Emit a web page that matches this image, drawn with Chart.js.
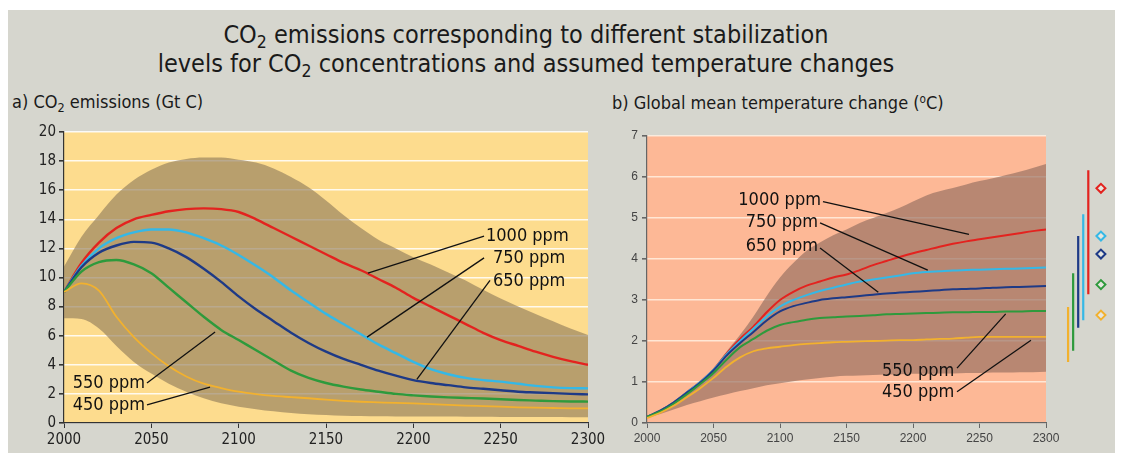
<!DOCTYPE html>
<html>
<head>
<meta charset="utf-8">
<script src="https://cdn.jsdelivr.net/npm/chart.js@4"></script>
<style>
  body { margin: 0; background: #fff; width: 1122px; height: 457px; position: relative; overflow: hidden;
         font-family: "DejaVu Sans Condensed", "DejaVu Sans", sans-serif; font-stretch: condensed; color: #1a1a1a; }
  #panel { position: absolute; left: 8px; top: 10px; width: 1107px; height: 443px; background: #d6d6ce; }
  #title { position: absolute; left: 0; top: 20px; width: 1052px; text-align: center; font-size: 25px; line-height: 29px; }
  .lab { position: absolute; font-size: 18px; white-space: nowrap; }
  sub { font-size: 70%; vertical-align: -0.3em; line-height: 0; }
  sup { font-size: 65%; vertical-align: 0.5em; line-height: 0; }
  canvas { position: absolute; }
</style>
</head>
<body>
<div id="panel"></div>
<div id="title">CO<sub>2</sub> emissions corresponding to different stabilization<br>levels for CO<sub>2</sub> concentrations and assumed temperature changes</div>
<div class="lab" style="left:12px; top:91px;">a) CO<sub>2</sub> emissions (Gt C)</div>
<div class="lab" style="left:612px; top:92px;">b) Global mean temperature change (<sup>o</sup>C)</div>
<canvas id="emissions-chart" width="610" height="357" style="left:0; top:100px;"></canvas>
<canvas id="temperature-chart" width="470" height="357" style="left:600px; top:100px;"></canvas>
<canvas id="range-chart" width="60" height="287" style="left:1054px; top:136px;"></canvas>
<script>
// years for both panels
const years = [2000, 2010, 2020, 2030, 2040, 2050, 2060, 2070, 2080, 2090, 2100,
  2110, 2120, 2130, 2140, 2150, 2160, 2170, 2180, 2190, 2200,
  2210, 2220, 2230, 2240, 2250, 2260, 2270, 2280, 2290, 2300];

// a) emissions, Gt C
const em1000 = [9.0, 11.0, 12.4, 13.4, 14.0, 14.3, 14.55, 14.7, 14.75, 14.7, 14.5,
  14.0, 13.4, 12.8, 12.2, 11.6, 11.0, 10.5, 9.9, 9.3, 8.6,
  8.0, 7.4, 6.8, 6.2, 5.7, 5.3, 4.9, 4.55, 4.25, 4.0];
const em750 = [9.0, 10.8, 12.0, 12.7, 13.1, 13.3, 13.3, 13.1, 12.7, 12.2, 11.55,
  10.8, 10.0, 9.1, 8.3, 7.5, 6.8, 6.1, 5.4, 4.8, 4.2,
  3.7, 3.35, 3.1, 2.95, 2.84, 2.7, 2.55, 2.45, 2.4, 2.38];
const em650 = [9.0, 10.7, 11.7, 12.2, 12.45, 12.4, 12.0, 11.4, 10.6, 9.7, 8.7,
  7.8, 7.0, 6.2, 5.5, 4.9, 4.4, 4.0, 3.6, 3.25, 2.95,
  2.75, 2.6, 2.45, 2.35, 2.25, 2.15, 2.1, 2.05, 2.0, 1.97];
const em550 = [9.0, 10.4, 11.05, 11.2, 10.9, 10.3, 9.3, 8.3, 7.3, 6.4, 5.7,
  5.0, 4.3, 3.6, 3.1, 2.75, 2.5, 2.3, 2.15, 2.0, 1.9,
  1.82, 1.76, 1.72, 1.68, 1.63, 1.58, 1.54, 1.5, 1.48, 1.47];
const em450 = [9.0, 9.6, 9.1, 7.3, 5.9, 4.8, 3.9, 3.2, 2.7, 2.4, 2.15,
  1.98, 1.86, 1.78, 1.7, 1.6, 1.52, 1.46, 1.42, 1.38, 1.35,
  1.3, 1.25, 1.2, 1.16, 1.12, 1.08, 1.05, 1.03, 1.01, 1.0];
const emHigh = [10.75, 12.8, 14.3, 15.7, 16.7, 17.4, 17.9, 18.15, 18.25, 18.25, 18.1,
  17.9, 17.5, 16.9, 16.2, 15.3, 14.3, 13.4, 12.6, 12.0, 11.4,
  10.9, 10.35, 9.8, 9.15, 8.55, 8.0, 7.5, 7.0, 6.5, 6.05];
const emLow = [7.2, 7.15, 6.5, 5.3, 4.2, 3.4, 2.7, 2.15, 1.7, 1.35, 1.12,
  0.95, 0.8, 0.68, 0.6, 0.55, 0.5, 0.48, 0.46, 0.45, 0.45,
  0.44, 0.44, 0.43, 0.43, 0.42, 0.42, 0.41, 0.41, 0.4, 0.4];

// b) temperature change, degC
const t1000 = [0.15, 0.3, 0.5, 0.75, 1.0, 1.3, 1.7, 2.05, 2.35, 2.7, 3.0,
  3.2, 3.35, 3.45, 3.55, 3.62, 3.73, 3.85, 3.95, 4.05, 4.14,
  4.22, 4.3, 4.37, 4.43, 4.48, 4.53, 4.58, 4.63, 4.68, 4.72];
const t750 = [0.15, 0.3, 0.5, 0.75, 1.0, 1.3, 1.68, 2.0, 2.3, 2.6, 2.84,
  3.0, 3.12, 3.22, 3.3, 3.38, 3.45, 3.5, 3.55, 3.6, 3.65,
  3.68, 3.7, 3.72, 3.73, 3.74, 3.75, 3.76, 3.77, 3.78, 3.79];
const t650 = [0.15, 0.3, 0.5, 0.74, 0.98, 1.28, 1.65, 1.95, 2.22, 2.5, 2.72,
  2.85, 2.93, 3.0, 3.04, 3.07, 3.1, 3.13, 3.16, 3.18, 3.2,
  3.22, 3.24, 3.26, 3.27, 3.28, 3.3, 3.31, 3.32, 3.33, 3.34];
const t550 = [0.15, 0.28, 0.47, 0.7, 0.95, 1.22, 1.55, 1.85, 2.05, 2.25, 2.39,
  2.46, 2.52, 2.56, 2.58, 2.6, 2.61, 2.63, 2.65, 2.66, 2.67,
  2.68, 2.69, 2.7, 2.7, 2.71, 2.71, 2.72, 2.72, 2.73, 2.73];
const t450 = [0.12, 0.25, 0.42, 0.63, 0.85, 1.1, 1.38, 1.6, 1.75, 1.82, 1.86,
  1.9, 1.93, 1.95, 1.97, 1.98, 1.99, 2.0, 2.01, 2.02, 2.02,
  2.04, 2.05, 2.06, 2.08, 2.1, 2.1, 2.1, 2.1, 2.1, 2.1];
const tHigh = [0.15, 0.32, 0.52, 0.77, 1.02, 1.33, 1.75, 2.15, 2.6, 3.1, 3.55,
  3.9, 4.2, 4.4, 4.58, 4.72, 4.88, 5.0, 5.12, 5.25, 5.4,
  5.55, 5.65, 5.73, 5.82, 5.9, 5.97, 6.05, 6.13, 6.22, 6.32];
const tLow = [0.12, 0.22, 0.33, 0.44, 0.53, 0.62, 0.7, 0.78, 0.85, 0.92, 0.97,
  1.02, 1.06, 1.1, 1.13, 1.15, 1.16, 1.17, 1.18, 1.19, 1.2,
  1.2, 1.21, 1.21, 1.22, 1.22, 1.23, 1.23, 1.24, 1.24, 1.25];

// equilibrium ranges at the right (450, 550, 650, 750, 1000 ppm)
const rangeLow = [1.39, 1.68, 2.27, 2.46, 3.12];
const rangeHigh = [2.8, 3.66, 4.61, 5.17, 6.29];
const rangeBest = [2.59, 3.37, 4.15, 4.61, 5.83];

const levels = ["450 ppm", "550 ppm", "650 ppm", "750 ppm", "1000 ppm"];
const colors = ["#f2b12e", "#2e9a3c", "#1e3a86", "#35b8e6", "#e3231f"];

// leader labels, in data units: text spot, line start, line end
const emNotes = [
  { text: "1000 ppm", tx: 2241.6, ty: 12.85, align: "left", x1: 2240.5, y1: 12.85, x2: 2174, y2: 10.3 },
  { text: "750 ppm", tx: 2245.6, ty: 11.35, align: "left", x1: 2240.5, y1: 11.35, x2: 2173.5, y2: 5.9 },
  { text: "650 ppm", tx: 2245.6, ty: 9.75, align: "left", x1: 2243.9, y1: 9.8, x2: 2202, y2: 3.0 },
  { text: "550 ppm", tx: 2046.4, ty: 2.75, align: "right", x1: 2047.5, y1: 2.75, x2: 2086.5, y2: 6.25 },
  { text: "450 ppm", tx: 2046.4, ty: 1.24, align: "right", x1: 2047.5, y1: 1.24, x2: 2083.6, y2: 2.47 },
];
const tNotes = [
  { text: "1000 ppm", tx: 2130.8, ty: 5.44, align: "right", x1: 2132.3, y1: 5.4, x2: 2242.1, y2: 4.6 },
  { text: "750 ppm", tx: 2128.6, ty: 4.9, align: "right", x1: 2130.1, y1: 4.88, x2: 2211.1, y2: 3.73 },
  { text: "650 ppm", tx: 2128.6, ty: 4.32, align: "right", x1: 2130.1, y1: 4.27, x2: 2173.9, y2: 3.19 },
  { text: "550 ppm", tx: 2176.7, ty: 1.27, align: "left", x1: 2233.1, y1: 1.34, x2: 2269.7, y2: 2.66 },
  { text: "450 ppm", tx: 2176.7, ty: 0.74, align: "left", x1: 2233.1, y1: 0.76, x2: 2288.7, y2: 2.02 },
];

const FONT = "'DejaVu Sans Condensed', 'DejaVu Sans', sans-serif";

function pts(ys) {
  return ys.map((y, i) => ({ x: years[i], y: y }));
}

const plotBg = {
  id: "plotBg",
  beforeDraw(chart, args, opts) {
    const a = chart.chartArea;
    const ctx = chart.ctx;
    ctx.save();
    ctx.fillStyle = opts.color;
    ctx.fillRect(a.left, a.top, a.width, a.height);
    ctx.restore();
  },
};

const notes = {
  id: "notes",
  afterDatasetsDraw(chart, args, opts) {
    const ctx = chart.ctx;
    const sx = chart.scales.x, sy = chart.scales.y;
    ctx.save();
    ctx.strokeStyle = "#111";
    ctx.lineWidth = 1.3;
    ctx.fillStyle = "#111";
    ctx.font = "18px " + FONT;
    ctx.textBaseline = "middle";
    opts.items.forEach((n) => {
      ctx.beginPath();
      ctx.moveTo(sx.getPixelForValue(n.x1), sy.getPixelForValue(n.y1));
      ctx.lineTo(sx.getPixelForValue(n.x2), sy.getPixelForValue(n.y2));
      ctx.stroke();
      ctx.textAlign = n.align;
      ctx.fillText(n.text, sx.getPixelForValue(n.tx), sy.getPixelForValue(n.ty));
    });
    ctx.restore();
  },
};

function lineSet(label, ys, color, width) {
  return {
    label: label,
    data: pts(ys),
    borderColor: color,
    borderWidth: width,
    pointRadius: 0,
    cubicInterpolationMode: "monotone",
    fill: false,
    order: 1,
  };
}

function bandSets(high, low, color) {
  return [
    { label: "high", data: pts(high), borderWidth: 0, pointRadius: 0, backgroundColor: color,
      fill: "+1", cubicInterpolationMode: "monotone", order: 5 },
    { label: "low", data: pts(low), borderWidth: 0, pointRadius: 0, fill: false,
      cubicInterpolationMode: "monotone", order: 6 },
  ];
}

function makeChart(el, opt) {
  return new Chart(el, {
    type: "line",
    data: { datasets: opt.datasets },
    plugins: [plotBg, notes],
    options: {
      responsive: false,
      animation: false,
      layout: { padding: opt.padding },
      plugins: {
        legend: { display: false },
        tooltip: { enabled: false },
        plotBg: { color: opt.bg },
        notes: { items: opt.notes },
      },
      scales: {
        x: {
          type: "linear",
          min: 2000,
          max: 2300,
          afterFit: (s) => { s.height = 30; s.paddingLeft = 0; s.paddingRight = 0; },
          ticks: { stepSize: 50, callback: (v) => String(v), color: opt.tickColor, padding: 3,
                   maxRotation: 0, font: { family: opt.tickFont, size: opt.tickSize } },
          grid: { drawOnChartArea: false, tickLength: 5, tickColor: opt.axisColor },
          border: { color: opt.axisColor, width: 1.2 },
        },
        y: {
          min: 0,
          max: opt.ymax,
          afterFit: (s) => { s.width = opt.yWidth; s.paddingTop = 0; s.paddingBottom = 0; },
          ticks: { stepSize: opt.ystep, color: opt.tickColor, padding: opt.yPad,
                   font: { family: opt.tickFont, size: opt.tickSize } },
          grid: { color: opt.gridColor, lineWidth: 1.6, tickLength: 5, tickColor: opt.axisColor },
          border: { color: opt.axisColor, width: 1.2 },
        },
      },
    },
  });
}

makeChart(document.getElementById("emissions-chart"), {
  datasets: [
    lineSet("450 ppm", em450, colors[0], 1.8),
    lineSet("550 ppm", em550, colors[1], 2.4),
    lineSet("650 ppm", em650, colors[2], 2.4),
    lineSet("750 ppm", em750, colors[3], 2.4),
    lineSet("1000 ppm", em1000, colors[4], 2.4),
  ].concat(bandSets(emHigh, emLow, "rgba(148,128,93,0.66)")),
  padding: { left: 0, top: 32, right: 22, bottom: 4 },
  bg: "#fddc8e",
  notes: emNotes,
  ymax: 20,
  ystep: 2,
  yWidth: 64,
  yPad: 3,
  tickFont: FONT,
  tickSize: 15,
  tickColor: "#222",
  axisColor: "#333",
  gridColor: "rgba(255,255,255,0.85)",
});

makeChart(document.getElementById("temperature-chart"), {
  datasets: [
    lineSet("450 ppm", t450, colors[0], 1.8),
    lineSet("550 ppm", t550, colors[1], 2),
    lineSet("650 ppm", t650, colors[2], 2),
    lineSet("750 ppm", t750, colors[3], 2),
    lineSet("1000 ppm", t1000, colors[4], 2),
  ].concat(bandSets(tHigh, tLow, "rgba(150,112,98,0.68)")),
  padding: { left: 0, top: 36, right: 24, bottom: 4 },
  bg: "#fdb896",
  notes: tNotes,
  ymax: 7,
  ystep: 1,
  yWidth: 47,
  yPad: 4,
  tickFont: "'Liberation Sans', Arial, sans-serif",
  tickSize: 12,
  tickColor: "#444",
  axisColor: "#666",
  gridColor: "rgba(255,238,225,0.85)",
});

// slots: one per range bar, best guesses in a column further right
const rangeSlots = [0, 1, 2, 3, 4];
const bestSlot = 6.5;

new Chart(document.getElementById("range-chart"), {
  type: "line",
  data: {
    datasets: levels.map((lv, i) => ({
      label: lv,
      data: [{ x: rangeSlots[i], y: rangeLow[i] }, { x: rangeSlots[i], y: rangeHigh[i] }],
      borderColor: colors[i],
      borderWidth: 2.2,
      pointRadius: 0,
    })).concat([{
      label: "best",
      data: rangeBest.map((v) => ({ x: bestSlot, y: v })),
      showLine: false,
      pointStyle: "rectRot",
      pointRadius: 4.5,
      borderWidth: 2,
      pointBorderColor: colors,
      pointBackgroundColor: "#e6e6df",
    }]),
  },
  options: {
    responsive: false,
    animation: false,
    layout: { padding: 0 },
    plugins: { legend: { display: false }, tooltip: { enabled: false } },
    scales: {
      x: { type: "linear", min: -1.5, max: 7.8, display: false },
      y: { min: 0, max: 7, display: false },
    },
  },
});
</script>
</body>
</html>
